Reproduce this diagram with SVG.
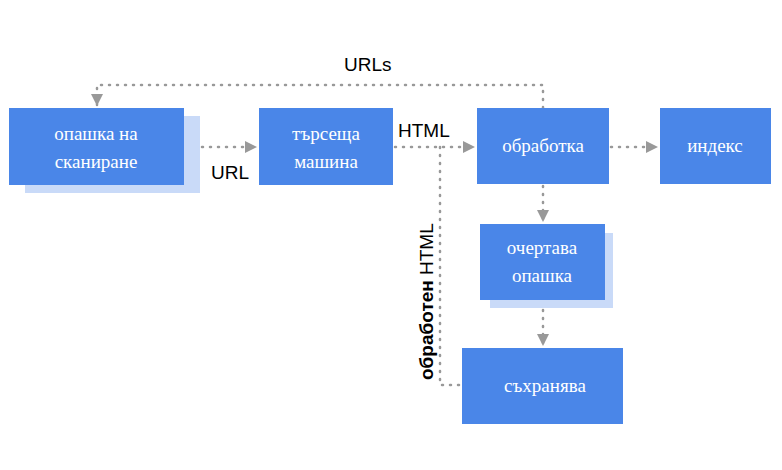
<svg xmlns="http://www.w3.org/2000/svg" width="782" height="470" viewBox="0 0 782 470">
<style>
.b{fill:#4a86e8}.s{fill:#c9daf8}
.t{font-family:"Liberation Serif","DejaVu Serif",serif;font-size:19px;fill:#fff;text-anchor:middle}
.l{font-family:"Liberation Sans",Arial,sans-serif;font-size:19px;fill:#000}
.c{fill:none;stroke:#999;stroke-width:2.5;stroke-dasharray:1 7;stroke-linecap:round}
</style>
<defs><marker id="a" viewBox="0 0 10 10" refX="10" refY="5" markerWidth="5" markerHeight="5" orient="auto" markerUnits="strokeWidth"><path d="M0,0L10,5L0,10z" fill="#999"/></marker></defs>
<rect width="782" height="470" fill="#fff"/>
<g id="connectors">
<path class="c" d="M543,108V85H97V106" marker-end="url(#a)"/>
<path class="c" d="M186,147H257" marker-end="url(#a)"/>
<path class="c" d="M395,147H475" marker-end="url(#a)"/>
<path class="c" d="M611,147H658" marker-end="url(#a)"/>
<path class="c" d="M543,186V222" marker-end="url(#a)"/>
<path class="c" d="M543,302V346" marker-end="url(#a)"/>
<path class="c" d="M440,147V385H460"/>
<text class="l" x="344" y="71">URLs</text>
<text class="l" x="211" y="179">URL</text>
<text class="l" x="398" y="137">HTML</text>
<text class="l" transform="translate(433,380) rotate(-90)"><tspan font-weight="bold">обработен</tspan> HTML</text>
</g>
<g id="n1"><rect class="s" x="25" y="116" width="175" height="77"/><rect class="b" x="9" y="108" width="175" height="77"/><text class="t" x="96" y="140">опашка на</text><text class="t" x="96" y="168">сканиране</text></g>
<g id="n2"><rect class="b" x="259" y="108" width="134" height="77"/><text class="t" x="326" y="140">търсеща</text><text class="t" x="326" y="168">машина</text></g>
<g id="n3"><rect class="b" x="477" y="108" width="132" height="76"/><text class="t" x="543" y="152">обработка</text></g>
<g id="n4"><rect class="b" x="660" y="108" width="111" height="76"/><text class="t" x="715" y="152">индекс</text></g>
<g id="n5"><rect class="s" x="490" y="233" width="123" height="75"/><rect class="b" x="480" y="224" width="125" height="76"/><text class="t" x="542" y="254">очертава</text><text class="t" x="542" y="282">опашка</text></g>
<g id="n6"><rect class="b" x="462" y="348" width="161" height="76"/><text class="t" x="545" y="392">съхранява</text></g>
</svg>
